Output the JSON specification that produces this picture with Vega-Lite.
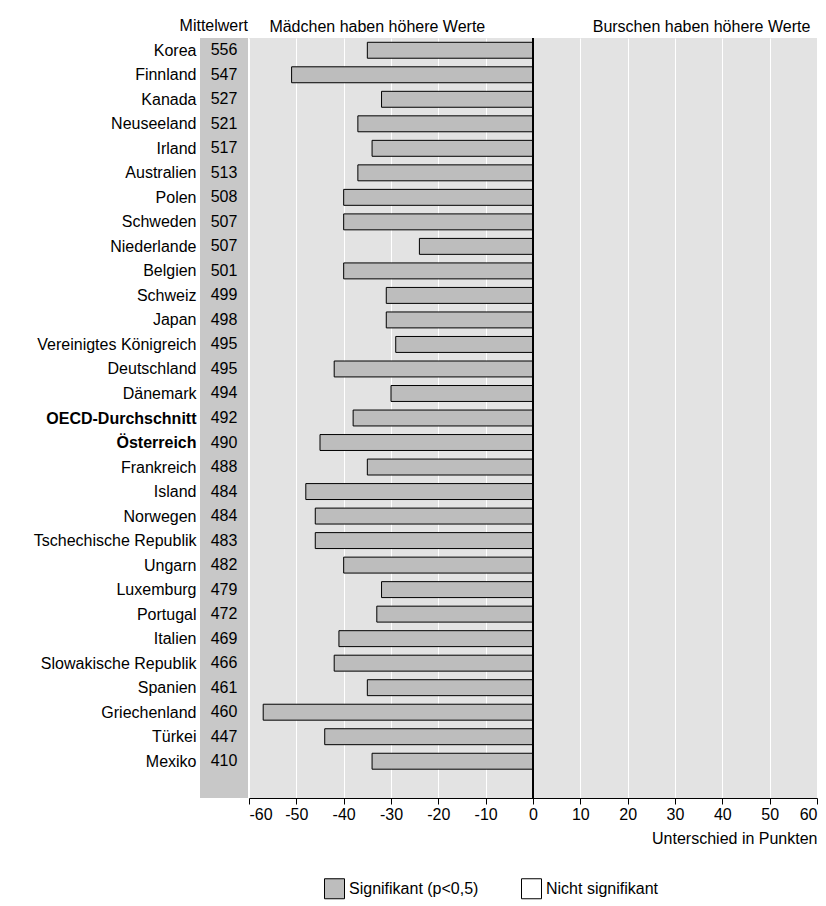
{
  "$schema": "https://vega.github.io/schema/vega-lite/v6.json",
  "background": "white",
  "padding": {"left": 33, "top": 18, "right": 4, "bottom": 5},
  "config": {
    "font": "Liberation Sans",
    "concat": {"spacing": 0},
    "view": {"stroke": null},
    "axis": {"labelFontSize": 16, "titleFontSize": 16, "labelColor": "black", "titleColor": "black", "titleFontWeight": "normal", "labelLimit": 0},
    "legend": {"labelFontSize": 16, "labelColor": "black", "labelLimit": 0}
  },
  "data": {"values": [
    {"land": "Korea", "mw": 556, "diff": -35},
    {"land": "Finnland", "mw": 547, "diff": -51},
    {"land": "Kanada", "mw": 527, "diff": -32},
    {"land": "Neuseeland", "mw": 521, "diff": -37},
    {"land": "Irland", "mw": 517, "diff": -34},
    {"land": "Australien", "mw": 513, "diff": -37},
    {"land": "Polen", "mw": 508, "diff": -40},
    {"land": "Schweden", "mw": 507, "diff": -40},
    {"land": "Niederlande", "mw": 507, "diff": -24},
    {"land": "Belgien", "mw": 501, "diff": -40},
    {"land": "Schweiz", "mw": 499, "diff": -31},
    {"land": "Japan", "mw": 498, "diff": -31},
    {"land": "Vereinigtes Königreich", "mw": 495, "diff": -29},
    {"land": "Deutschland", "mw": 495, "diff": -42},
    {"land": "Dänemark", "mw": 494, "diff": -30},
    {"land": "OECD-Durchschnitt", "mw": 492, "diff": -38},
    {"land": "Österreich", "mw": 490, "diff": -45},
    {"land": "Frankreich", "mw": 488, "diff": -35},
    {"land": "Island", "mw": 484, "diff": -48},
    {"land": "Norwegen", "mw": 484, "diff": -46},
    {"land": "Tschechische Republik", "mw": 483, "diff": -46},
    {"land": "Ungarn", "mw": 482, "diff": -40},
    {"land": "Luxemburg", "mw": 479, "diff": -32},
    {"land": "Portugal", "mw": 472, "diff": -33},
    {"land": "Italien", "mw": 469, "diff": -41},
    {"land": "Slowakische Republik", "mw": 466, "diff": -42},
    {"land": "Spanien", "mw": 461, "diff": -35},
    {"land": "Griechenland", "mw": 460, "diff": -57},
    {"land": "Türkei", "mw": 447, "diff": -44},
    {"land": "Mexiko", "mw": 410, "diff": -34}
  ]},
  "hconcat": [
    {
      "width": 48,
      "height": 760,
      "view": {"fill": "#c8c8c8", "stroke": null},
      "title": {"text": "Mittelwert", "anchor": "end", "fontSize": 16, "fontWeight": "normal", "offset": 4},
      "mark": {"type": "text", "fontSize": 16, "color": "black"},
      "encoding": {
        "y": {"field": "land", "type": "nominal", "sort": null, "title": null,
          "scale": {"domain": ["Korea","Finnland","Kanada","Neuseeland","Irland","Australien","Polen","Schweden","Niederlande","Belgien","Schweiz","Japan","Vereinigtes Königreich","Deutschland","Dänemark","OECD-Durchschnitt","Österreich","Frankreich","Island","Norwegen","Tschechische Republik","Ungarn","Luxemburg","Portugal","Italien","Slowakische Republik","Spanien","Griechenland","Türkei","Mexiko"," "], "paddingInner": 0.35, "paddingOuter": 0.175},
          "axis": {"domain": false, "ticks": false, "labelPadding": 4,
            "labelFontWeight": {"expr": "datum.value == 'OECD-Durchschnitt' || datum.value == 'Österreich' ? 'bold' : 'normal'"}}},
        "text": {"field": "mw", "type": "quantitative"}
      }
    },
    {
      "width": 568,
      "height": 760,
      "view": {"fill": "#e3e3e3", "stroke": null},
      "layer": [
        {
          "mark": {"type": "bar", "fill": "#bdbdbd", "stroke": "black", "strokeWidth": 1},
          "encoding": {
            "y": {"field": "land", "type": "nominal", "sort": null, "axis": null,
              "scale": {"domain": ["Korea","Finnland","Kanada","Neuseeland","Irland","Australien","Polen","Schweden","Niederlande","Belgien","Schweiz","Japan","Vereinigtes Königreich","Deutschland","Dänemark","OECD-Durchschnitt","Österreich","Frankreich","Island","Norwegen","Tschechische Republik","Ungarn","Luxemburg","Portugal","Italien","Slowakische Republik","Spanien","Griechenland","Türkei","Mexiko"," "], "paddingInner": 0.35, "paddingOuter": 0.175}},
            "x": {"field": "diff", "type": "quantitative", "scale": {"domain": [-60, 60], "nice": false},
              "axis": {"values": [-60,-50,-40,-30,-20,-10,0,10,20,30,40,50,60], "grid": true, "gridColor": "white", "gridWidth": 1,
                "domainColor": "black", "tickColor": "black", "tickSize": 6, "labelExpr": "'' + datum.value",
                "title": "Unterschied in Punkten", "titleAnchor": "end", "titlePadding": 8}},
            "color": {"datum": "Signifikant (p<0,5)", "type": "nominal",
              "scale": {"domain": ["Signifikant (p<0,5)", "Nicht signifikant"], "range": ["#bdbdbd", "#ffffff"]},
              "legend": {"orient": "none", "legendX": 124, "legendY": 840, "title": null, "direction": "horizontal", "symbolType": "square", "symbolSize": 400, "symbolStrokeColor": "black", "symbolStrokeWidth": 1, "columnPadding": 40}}
          }
        },
        {
          "mark": {"type": "rule", "color": "black", "strokeWidth": 1.5},
          "encoding": {"x": {"datum": 0, "type": "quantitative",
            "axis": {"orient": "top", "values": [-33, 35.5], "domain": false, "ticks": false, "grid": false, "title": null, "labelPadding": 4,
              "labelExpr": "datum.value < 0 ? 'Mädchen haben höhere Werte' : 'Burschen haben höhere Werte'"}}}
        }
      ],
      "resolve": {"axis": {"x": "independent"}}
    }
  ]
}
